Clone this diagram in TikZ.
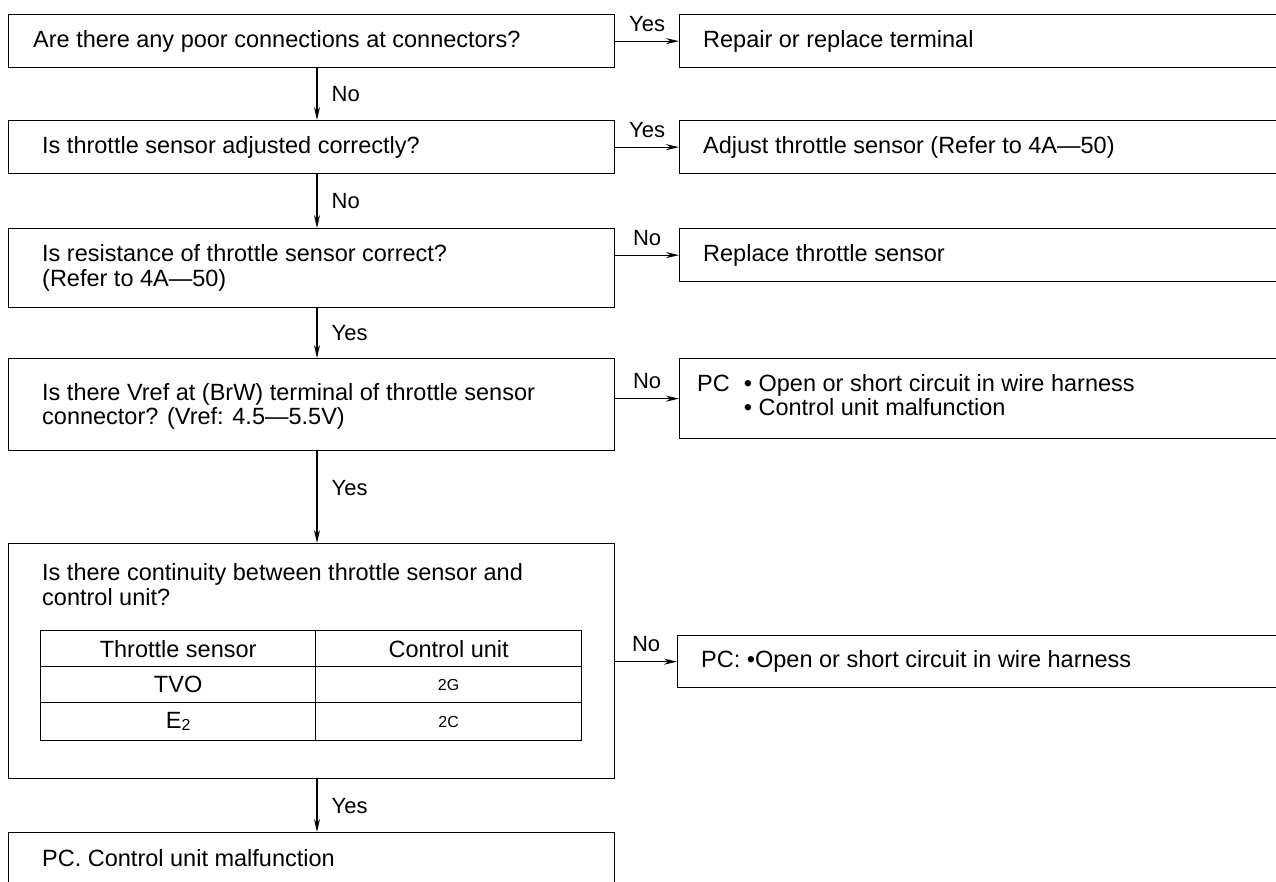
\documentclass[tikz,border=0pt]{standalone}
\usepackage{fontspec}
\setmainfont{Liberation Sans}
\usetikzlibrary{arrows.meta}
\begin{document}
\begin{tikzpicture}[x=1pt,y=-1pt,
  every node/.style={font=\fontsize{23.5}{24.5}\selectfont, inner sep=0pt},
  frame/.style={draw, line width=1.3pt, anchor=north west, minimum width=606pt},
  rframe/.style={draw, line width=1.3pt, anchor=north west, minimum width=640pt},
  cell/.style={draw, line width=1.3pt, anchor=north west},
  txt/.style={anchor=west, align=left},
  arr/.style={line width=1.3pt, -{Stealth[length=13pt,width=6pt]}},
  lab/.style={font=\fontsize{22}{24}\selectfont}
]
\useasboundingbox (0,0) rectangle (1276,881);
\clip (0,0) rectangle (1276,881);
\fill[white] (0,0) rectangle (1276,881);

% left column boxes
\node[frame, minimum height=53pt] (b1) at (8,14) {};
\node[frame, minimum height=53pt] (b2) at (8,120) {};
\node[frame, minimum height=79pt] (b3) at (8,228) {};
\node[frame, minimum height=92pt] (b4) at (8,358) {};
\node[frame, minimum height=235pt] (b5) at (8,543) {};
\node[frame, minimum height=90pt] (b6) at (8,832) {};

% right column boxes (open to the right edge)
\node[rframe, minimum height=53pt] (r1) at (679,14) {};
\node[rframe, minimum height=53pt] (r2) at (679,120) {};
\node[rframe, minimum height=53pt] (r3) at (679,228) {};
\node[rframe, minimum height=80pt] (r4) at (679,358) {};
\node[rframe, minimum height=52pt] (r5) at (677,635) {};

% left texts
\node[txt] (t1) at ([xshift=25pt]b1.west) {Are there any poor connections at connectors?};
\node[txt] (t2) at ([xshift=34pt]b2.west) {Is throttle sensor adjusted correctly?};
\node[txt] (t3) at ([xshift=34pt]b3.west) {Is resistance of throttle sensor correct?\\(Refer to 4A—50)};
\node[txt] (t4) at ([xshift=34pt,yshift=-2pt]b4.west) {Is there Vref at (BrW) terminal of throttle sensor\\connector? (Vref: 4.5—5.5V)};
\node[txt] (t5) at (42,584.5) {Is there continuity between throttle sensor and\\control unit?};
\node[txt] (t6) at (42,858) {PC. Control unit malfunction};

% table inside box 5
\node[cell, minimum width=275pt, minimum height=36pt] (h1) at (40,630) {Throttle sensor};
\node[cell, minimum width=266pt, minimum height=36pt] (h2) at (315,630) {Control unit};
\node[cell, minimum width=275pt, minimum height=36pt] (a1) at (40,666) {TVO};
\node[cell, minimum width=266pt, minimum height=36pt] (a2) at (315,666) {\fontsize{16}{18}\selectfont 2G};
\node[cell, minimum width=275pt, minimum height=38pt] (e1) at (40,702) {E\raisebox{-2pt}{\fontsize{16}{18}\selectfont 2}};
\node[cell, minimum width=266pt, minimum height=38pt] (e2) at (315,702) {\fontsize{16}{18}\selectfont 2C};

% right texts
\node[txt] (u1) at ([xshift=24pt]r1.west) {Repair or replace terminal};
\node[txt] (u2) at ([xshift=24pt]r2.west) {Adjust throttle sensor (Refer to 4A—50)};
\node[txt] (u3) at ([xshift=24pt]r3.west) {Replace throttle sensor};
\node[txt] (u4) at ([xshift=18pt]r4.west) {\begin{tabular}{@{}l@{\hspace{14pt}}l@{}}PC & • Open or short circuit in wire harness\\ & • Control unit malfunction\end{tabular}};
\node[txt] (u5) at ([xshift=24pt]r5.west) {PC: •Open or short circuit in wire harness};

% vertical connectors
\coordinate (ax) at (317,0);
\draw[arr] (b1.south -| ax) -- node[lab, right=14pt] {No} (b2.north -| ax);
\draw[arr] (b2.south -| ax) -- node[lab, right=14pt] {No} (b3.north -| ax);
\draw[arr] (b3.south -| ax) -- node[lab, right=14pt] {Yes} (b4.north -| ax);
\draw[arr] (b4.south -| ax) -- node[lab, right=14pt, pos=0.4] {Yes} (b5.north -| ax);
\draw[arr] (b5.south -| ax) -- node[lab, right=14pt] {Yes} (b6.north -| ax);

% horizontal connectors
\draw[arr] (r1.west -| b1.east) -- node[lab, above=9pt] {Yes} (r1.west);
\draw[arr] (r2.west -| b2.east) -- node[lab, above=9pt] {Yes} (r2.west);
\draw[arr] (r3.west -| b3.east) -- node[lab, above=9pt] {No} (r3.west);
\draw[arr] (r4.west -| b4.east) -- node[lab, above=9pt] {No} (r4.west);
\draw[arr] (r5.west -| b5.east) -- node[lab, above=9pt] {No} (r5.west);
\end{tikzpicture}
\end{document}
